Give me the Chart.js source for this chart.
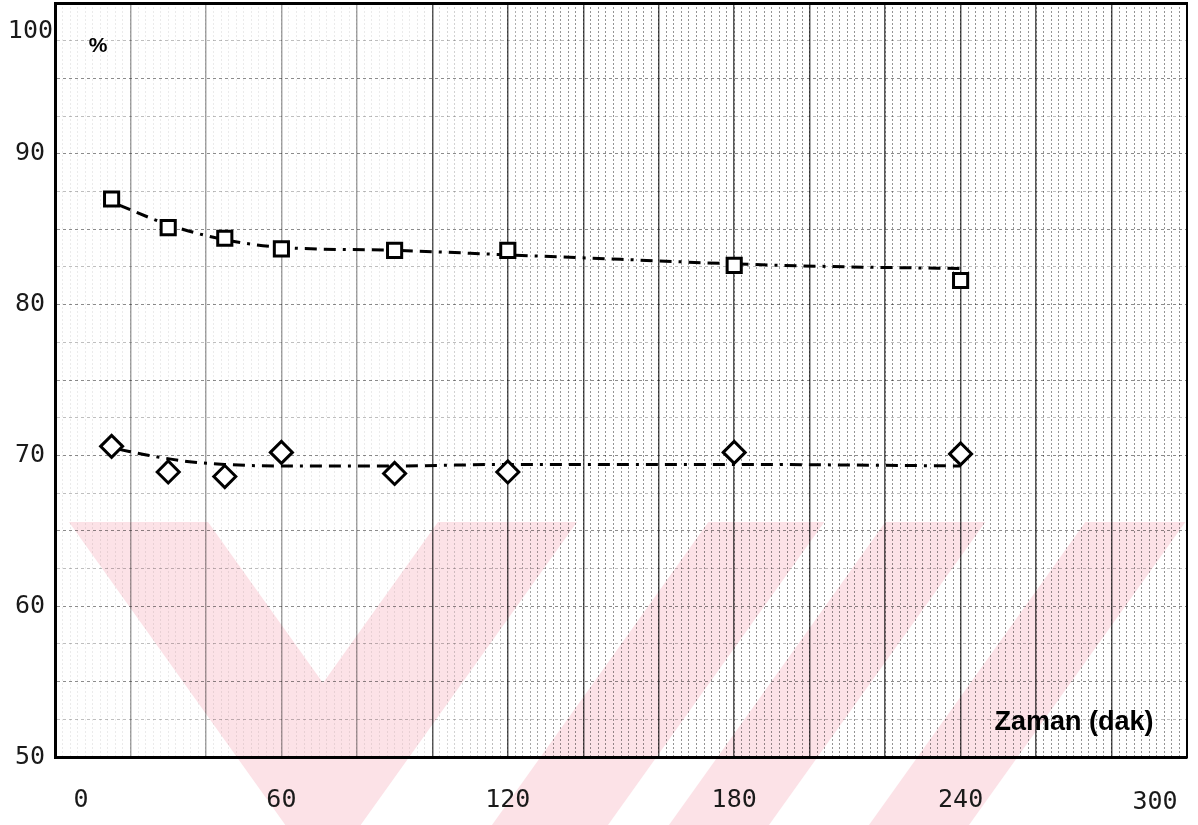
<!DOCTYPE html>
<html>
<head>
<meta charset="utf-8">
<script src="https://cdn.jsdelivr.net/npm/chart.js@4.4.0/dist/chart.umd.min.js"></script>
<style>
  html, body { margin: 0; padding: 0; background: #fff; }
</style>
</head>
<body>
<canvas id="chart" width="1198" height="825"></canvas>
<script>
// ===== Data =====
const timesMin    = [15, 30, 45, 60, 90, 120, 180, 240];
const squareVals  = [87.0, 85.1, 84.4, 83.7, 83.6, 83.6, 82.6, 81.6];
const diamondVals = [70.6, 68.9, 68.6, 70.2, 68.8, 68.9, 70.2, 70.1];

// hand drawn dash-dot trend curves
const squareFitX  = [17, 30, 45, 60, 90, 120, 150, 180, 210, 240];
const squareFitY  = [86.6, 85.3, 84.3, 83.8, 83.6, 83.3, 83.0, 82.7, 82.5, 82.4];
const diamondFitX = [17, 25, 35, 45, 60, 90, 120, 180, 240];
const diamondFitY = [70.4, 70.0, 69.6, 69.4, 69.3, 69.3, 69.4, 69.4, 69.3];

const xTickLabels = [0, 60, 120, 180, 240, 300];
const yTickLabels = [50, 60, 70, 80, 90, 100];
const xTitle = 'Zaman (dak)';
const yTitle = '%';

const toPoints = (xs, ys) => xs.map((x, i) => ({x: x, y: ys[i]}));

const tickFont = {family: '"DejaVu Sans Mono", monospace', size: 25};
const ink = '#1a1a1a';
const dashDot = [12, 7, 12, 7, 3, 7];

// paper grid shading: the scan is faint on the left, dense on the right
function minorAlpha(v){
    if (v < 95) return 0.08;
    if (v > 135) return 0.42;
    return 0.08 + (v - 95) / 40 * 0.34;
}

// ===== Decorations: paper, watermark, texts =====
const paperDeco = {
    id: 'paperDeco',
    beforeDraw(chart){
        const c = chart.ctx;
        c.save();
        c.fillStyle = '#fff';
        c.fillRect(0, 0, chart.width, chart.height);
        // watermark
        c.fillStyle = 'rgb(252,226,231)';
        const k = 0.714;
        const bands = [
            [[69,522],[208,522],[323,683],[438,522],[577,522],[577-k*360,882],[69+k*360,882]],
        ];
        // up-right stripes
        [492, 669, 869].forEach(b => {
            const w = b === 492 ? 116 : 100;
            bands.push([[b,825],[b+w,825],[b+w+k*303,522],[b+k*303,522]]);
        });
        bands.forEach(p => {
            c.beginPath();
            c.moveTo(p[0][0], p[0][1]);
            p.slice(1).forEach(q => c.lineTo(q[0], q[1]));
            c.closePath();
            c.fill();
        });
        c.restore();
    },
    afterDraw(chart){
        const c = chart.ctx;
        const xs = chart.scales.x, ys = chart.scales.y;
        c.save();
        c.fillStyle = ink;
        c.font = tickFont.size + 'px ' + tickFont.family;
        c.textBaseline = 'middle';
        c.textAlign = 'center';
        c.fillText(String(xTickLabels[0]), xs.getPixelForValue(xTickLabels[0]) + 26, 800);
        c.fillText(String(xTickLabels[5]), xs.getPixelForValue(xTickLabels[5]) - 32, 802);
        c.textAlign = 'right';
        c.fillText(String(yTickLabels[5]), 53, ys.getPixelForValue(yTickLabels[5]) + 28);

        c.textAlign = 'center';
        c.font = 'bold 21px "Liberation Sans", sans-serif';
        c.fillStyle = '#000';
        c.fillText(yTitle, 98, 46);
        c.font = 'bold 27px "Liberation Sans", sans-serif';
        c.fillText(xTitle, 1074, 723);
        c.restore();
    }
};

// ===== Chart =====
const chart = new Chart(document.getElementById('chart'), {
    type: 'scatter',
    data: {
        datasets: [
            {label: 'kare', data: toPoints(timesMin, squareVals), pointStyle: 'rect',
             pointRadius: 10, borderWidth: 3, borderColor: '#000', backgroundColor: '#fff', showLine: false},
            {label: 'baklava', data: toPoints(timesMin, diamondVals), pointStyle: 'rectRot',
             pointRadius: 11, borderWidth: 3, borderColor: '#000', backgroundColor: '#fff', showLine: false},
            {label: 'kare egri', data: toPoints(squareFitX, squareFitY), showLine: true, pointRadius: 0,
             borderColor: '#000', borderWidth: 3, borderDash: dashDot, cubicInterpolationMode: 'monotone'},
            {label: 'baklava egri', data: toPoints(diamondFitX, diamondFitY), showLine: true, pointRadius: 0,
             borderColor: '#000', borderWidth: 3, borderDash: dashDot, cubicInterpolationMode: 'monotone'}
        ]
    },
    options: {
        responsive: false,
        animation: false,
        devicePixelRatio: 1,
        layout: {autoPadding: false, padding: {top: 3, left: 0, right: 0, bottom: 0}},
        plugins: {legend: {display: false}, tooltip: {enabled: false}},
        scales: {
            x: {
                type: 'linear', position: 'bottom', min: 0, max: 300,
                ticks: {stepSize: 20, autoSkip: false, maxRotation: 0, padding: 28, font: tickFont, color: ink,
                        callback: v => (xTickLabels.includes(v) && v !== 0 && v !== 300) ? String(v) : ''},
                grid: {color: ctx => 'rgba(0,0,0,' + (ctx.tick.value < 100 ? 0.35 : 0.65) + ')', lineWidth: 1.5, drawTicks: false},
                border: {color: '#000', width: 3},
                afterFit: s => { s.height = 68; s.paddingLeft = 0; s.paddingRight = 0; }
            },
            xMinor: {
                type: 'linear', position: 'bottom', min: 0, max: 300,
                ticks: {display: false, stepSize: 2},
                grid: {color: ctx => 'rgba(0,0,0,' + minorAlpha(ctx.tick.value) + ')', lineWidth: 1, drawTicks: false},
                border: {display: false, dash: [2, 2]},
                afterFit: s => { s.height = 0; s.paddingLeft = 0; s.paddingRight = 0; }
            },
            xTop: {
                type: 'linear', position: 'top', min: 0, max: 300,
                ticks: {display: false}, grid: {display: false},
                border: {color: '#000', width: 3},
                afterFit: s => { s.height = 0; s.paddingLeft = 0; s.paddingRight = 0; }
            },
            y: {
                type: 'linear', min: 50, max: 100,
                ticks: {stepSize: 2.5, autoSkip: false, padding: 10, font: tickFont, color: ink,
                        callback: v => (yTickLabels.includes(v) && v !== 100) ? String(v) : ''},
                grid: {color: ctx => 'rgba(0,0,0,' + (ctx.tick.value % 5 === 0 ? 0.45 : 0.25) + ')', lineWidth: 1, drawTicks: false},
                border: {color: '#000', width: 3, dash: [3, 3]},
                afterFit: s => { s.width = 55; s.paddingTop = 0; s.paddingBottom = 0; }
            },
            yRight: {
                type: 'linear', position: 'right', min: 50, max: 100,
                ticks: {display: false}, grid: {display: false},
                border: {color: '#000', width: 2},
                afterFit: s => { s.width = 11; s.paddingTop = 0; s.paddingBottom = 0; }
            }
        }
    },
    plugins: [paperDeco]
});
</script>
</body>
</html>
